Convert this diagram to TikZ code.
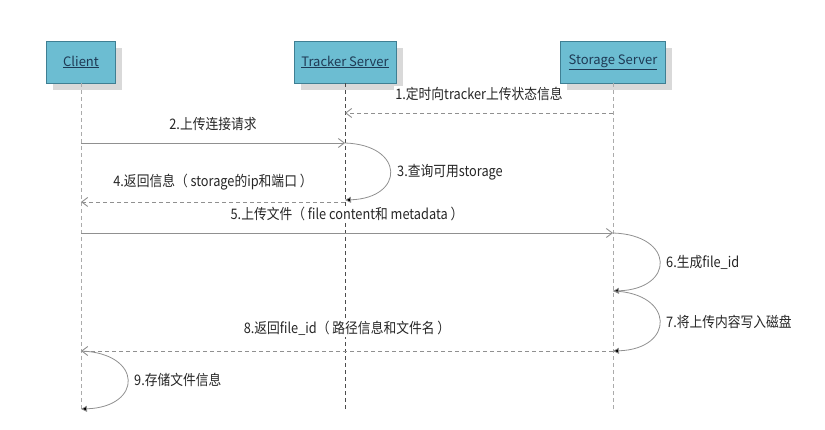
\documentclass[tikz,border=0pt]{standalone}
\usepackage{fontspec}
\setmainfont{Noto Sans CJK SC}
\newfontfamily\lblfont[FakeStretch=0.88]{Noto Sans CJK SC}
\usetikzlibrary{arrows.meta}
\definecolor{boxfill}{HTML}{6CBDD2}
\definecolor{boxborder}{HTML}{3F7F93}
\definecolor{boxtext}{HTML}{1E3A55}
\definecolor{linegray}{HTML}{909090}
\definecolor{lifegray}{HTML}{ABABAB}
\definecolor{labeltext}{HTML}{262626}
\begin{document}
\begin{tikzpicture}[x=1pt,y=-1pt,
  actor/.style={draw=boxborder, line width=0.8pt, fill=boxfill, minimum height=42pt, inner sep=0pt, text=boxtext, font=\fontsize{13}{15}\selectfont},
  lifeline/.style={draw=lifegray, dash pattern=on 4pt off 3pt, line width=0.8pt},
  trackline/.style={draw=black!70, dash pattern=on 4pt off 3pt, line width=0.8pt},
  msg/.style={draw=linegray, line width=0.9pt, -{Straight Barb[length=6pt,width=9pt]}},
  reply/.style={msg, dash pattern=on 4pt off 3pt},
  selfloop/.style={draw=linegray, line width=0.8pt, -{Triangle[length=6pt,width=6pt,fill=black]}},
  lbl/.style={fill=white, text=labeltext, inner sep=1pt, font=\lblfont\fontsize{14.5}{16}\selectfont}
]
\useasboundingbox (0,0) rectangle (825,430);
% shadows
\fill[black!15] (53,48) rectangle (122,90);
\fill[black!15] (301,48) rectangle (403,90);
\fill[black!15] (567,48) rectangle (672,90);
% actors
\node[actor, minimum width=69pt] (client) at (81,62) {\underline{Client}};
\node[actor, minimum width=102pt] (tracker) at (345,62) {\underline{Tracker Server}};
\node[actor, minimum width=105pt] (storage) at (613,62) {\underline{Storage Server}};
% lifeline ends
\coordinate (clientEnd) at (81,410);
\coordinate (trackerEnd) at (345,410);
\coordinate (storageEnd) at (613,410);
\draw[lifeline] (client.south) -- (clientEnd);
\draw[trackline] (tracker.south) -- (trackerEnd);
\draw[lifeline] (storage.south) -- (storageEnd);
% message points
\coordinate (s1) at (613,113); \coordinate (t1) at (345,113);
\coordinate (c2) at (81,143);  \coordinate (t2) at (345,143);
\coordinate (t3) at (345,200);
\coordinate (t4) at (345,202); \coordinate (c4) at (81,202);
\coordinate (c5) at (81,233);  \coordinate (s5) at (613,233);
\coordinate (s6) at (613,291);
\coordinate (s7) at (613,351);
\coordinate (c8) at (81,351);
\coordinate (c9) at (81,409);
% messages
\draw[reply] (s1) -- node[lbl, above=11pt] (l1) {1.定时向tracker上传状态信息} (t1);
\draw[msg] (c2) -- node[lbl, above=11pt] (l2) {2.上传连接请求} (t2);
\draw[selfloop] (t2) .. controls (405,145) and (405,198) .. (t3);
\node[lbl, anchor=west] (l3) at (396,172) {3.查询可用storage};
\draw[reply] (t4) -- node[lbl, above=10pt] (l4) {4.返回信息（ storage的ip和端口 ）} (c4);
\draw[msg] (c5) -- node[lbl, above=11pt] (l5) {5.上传文件（ file content和 metadata ）} (s5);
\draw[selfloop] (s5) .. controls (675,235) and (675,289) .. (s6);
\node[lbl, anchor=west] (l6) at (665,262) {6.生成file\_id};
\draw[selfloop] (s6) .. controls (675,293) and (675,349) .. (s7);
\node[lbl, anchor=west] (l7) at (665,322) {7.将上传内容写入磁盘};
\draw[reply] (s7) -- node[lbl, above=14pt] (l8) {8.返回file\_id（ 路径信息和文件名 ）} (c8);
\draw[selfloop] (c8) .. controls (143,353) and (143,407) .. (c9);
\node[lbl, anchor=west] (l9) at (133,380) {9.存储文件信息};
\end{tikzpicture}
\end{document}
